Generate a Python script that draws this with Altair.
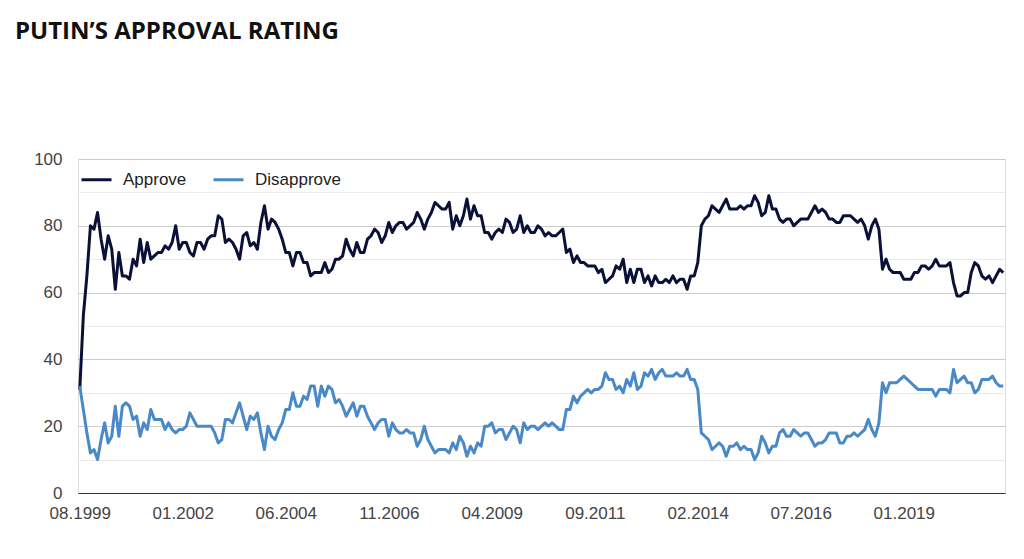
import altair as alt
import pandas as pd

# Monthly Levada-style poll readings
APPROVE = [
    31, 53, 65, 80, 79, 84, 76, 70, 77, 73, 61, 72, 65, 65, 64, 70, 68, 76, 69, 75,
    70, 71, 72, 72, 74, 73, 75, 80, 73, 75, 75, 72, 71, 75, 75, 73, 76, 77, 77, 83,
    82, 75, 76, 75, 73, 70, 77, 78, 74, 75, 73, 81, 86, 79, 82, 81, 79, 76, 72, 72,
    68, 72, 72, 69, 69, 65, 66, 66, 66, 69, 66, 67, 70, 70, 71, 76, 73, 71, 75, 72,
    72, 76, 77, 79, 78, 75, 77, 81, 78, 80, 81, 81, 79, 80, 81, 84, 82, 79, 82, 84,
    87, 86, 85, 85, 87, 79, 83, 80, 83, 88, 82, 86, 83, 83, 78, 78, 76, 78, 79, 78,
    82, 81, 78, 79, 83, 78, 80, 78, 78, 80, 79, 77, 78, 77, 77, 78, 79, 72, 73, 69,
    71, 69, 69, 68, 68, 68, 66, 67, 63, 64, 65, 68, 67, 70, 63, 67, 63, 67, 67, 63,
    65, 62, 65, 63, 63, 64, 63, 65, 63, 64, 64, 61, 65, 65, 69, 80, 82, 83, 86, 85,
    84, 86, 88, 85, 85, 85, 86, 85, 86, 86, 89, 87, 83, 84, 89, 85, 85, 82, 81, 82,
    82, 80, 81, 82, 82, 82, 84, 86, 84, 85, 84, 82, 82, 81, 81, 83, 83, 83, 82, 81,
    82, 80, 76, 80, 82, 79, 67, 70, 67, 66, 66, 66, 64, 64, 64, 66, 66, 68, 68, 67,
    68, 70, 68, 68, 68, 69, 63, 59, 59, 60, 60, 66, 69, 68, 65, 64, 65, 63, 65, 67,
    66,
]
DISAPPROVE = [
    32, 25, 18, 12, 13, 10, 16, 21, 15, 17, 26, 17, 26, 27, 26, 22, 23, 17, 21, 19,
    25, 22, 22, 22, 19, 21, 19, 18, 19, 19, 20, 24, 22, 20, 20, 20, 20, 20, 18, 15,
    16, 22, 22, 21, 24, 27, 23, 19, 23, 22, 24, 18, 13, 20, 17, 16, 19, 21, 25, 25,
    30, 26, 26, 29, 28, 32, 32, 26, 32, 29, 32, 31, 27, 28, 26, 23, 25, 27, 23, 26,
    26, 23, 21, 19, 21, 22, 22, 17, 21, 19, 18, 18, 19, 18, 18, 14, 16, 20, 16, 14,
    12, 13, 13, 13, 12, 15, 13, 17, 15, 11, 14, 12, 15, 14, 20, 20, 21, 18, 19, 19,
    16, 18, 20, 19, 15, 21, 19, 20, 20, 19, 20, 21, 20, 21, 20, 19, 19, 25, 25, 29,
    27, 29, 30, 31, 30, 31, 31, 32, 36, 34, 34, 31, 32, 30, 34, 32, 36, 31, 32, 36,
    35, 37, 34, 36, 37, 35, 35, 35, 36, 35, 35, 37, 34, 34, 31, 18, 17, 16, 13, 14,
    15, 14, 11, 14, 14, 15, 13, 14, 13, 13, 10, 12, 17, 15, 12, 14, 14, 18, 19, 17,
    17, 19, 18, 17, 18, 18, 16, 14, 15, 15, 16, 18, 18, 18, 15, 15, 17, 17, 18, 17,
    18, 19, 22, 19, 17, 21, 33, 30, 33, 33, 33, 34, 35, 34, 33, 32, 31, 31, 31, 31,
    31, 29, 31, 31, 31, 30, 37, 33, 34, 35, 33, 33, 30, 31, 34, 34, 34, 35, 33, 32,
    32,
]
SERIES = ["Approve", "Disapprove"]
COLORS = ["#0b1038", "#4a89c8"]
TICK_LABELS = ["08.1999", "01.2002", "06.2004", "11.2006", "04.2009",
               "09.2011", "02.2014", "07.2016", "01.2019"]
TICK_STEP = 29
TITLE = "PUTIN\u2019S APPROVAL RATING"

n = len(APPROVE)
df = pd.DataFrame({
    "idx": list(range(n)) * 2,
    "value": APPROVE + DISAPPROVE,
    "series": [SERIES[0]] * n + [SERIES[1]] * n,
})

tick_vals = [i * TICK_STEP for i in range(len(TICK_LABELS))]
label_expr = (
    "[" + ",".join(f"'{t}'" for t in TICK_LABELS) + "][indexof(["
    + ",".join(str(v) for v in tick_vals) + "], datum.value)]"
)

FONT = "Liberation Sans"

chart = alt.Chart(df).mark_line(strokeWidth=3, strokeJoin="round").encode(
    x=alt.X(
        "idx:Q",
        scale=alt.Scale(domain=[-0.5, n - 0.5], nice=False, zero=False),
        axis=alt.Axis(
            values=tick_vals, labelExpr=label_expr, title=None, grid=False,
            ticks=False, domainColor="#333333", domainWidth=1,
            labelFontSize=17, labelColor="#444444", labelFont=FONT,
            labelPadding=12, labelFlush=False,
        ),
    ),
    y=alt.Y(
        "value:Q",
        scale=alt.Scale(domain=[0, 100], nice=False),
        axis=alt.Axis(
            values=list(range(0, 101, 10)),
            labelExpr="datum.value % 20 == 0 ? datum.label : ''",
            title=None, domain=False, ticks=False,
            gridColor={"condition": {"test": "datum.value % 20 == 0", "value": "#cccccc"},
                       "value": "#ebebeb"},
            gridWidth=1,
            labelFontSize=17, labelColor="#444444", labelFont=FONT,
            labelPadding=16,
        ),
    ),
    color=alt.Color(
        "series:N",
        scale=alt.Scale(domain=SERIES, range=COLORS),
        legend=alt.Legend(
            orient="none", legendX=2, legendY=4, direction="horizontal",
            title=None, symbolType="stroke", symbolStrokeWidth=3, symbolSize=900,
            labelFontSize=17, labelColor="#222222", labelFont=FONT,
            labelOffset=10, columnPadding=20,
        ),
    ),
    order=alt.Order("idx:Q"),
).properties(
    width=927,
    height=334,
    title=alt.TitleParams(
        TITLE, anchor="start", frame="group", font="Open Sans", fontSize=24,
        fontWeight="bold", color="#111111", dx=-63, offset=106,
    ),
    padding={"left": 70, "top": 151, "right": 11, "bottom": 58},
    autosize=alt.AutoSizeParams(type="none"),
).configure_view(stroke=None).configure(background="white")

chart.save("out.html", embed_options={"renderer": "svg", "actions": False})
